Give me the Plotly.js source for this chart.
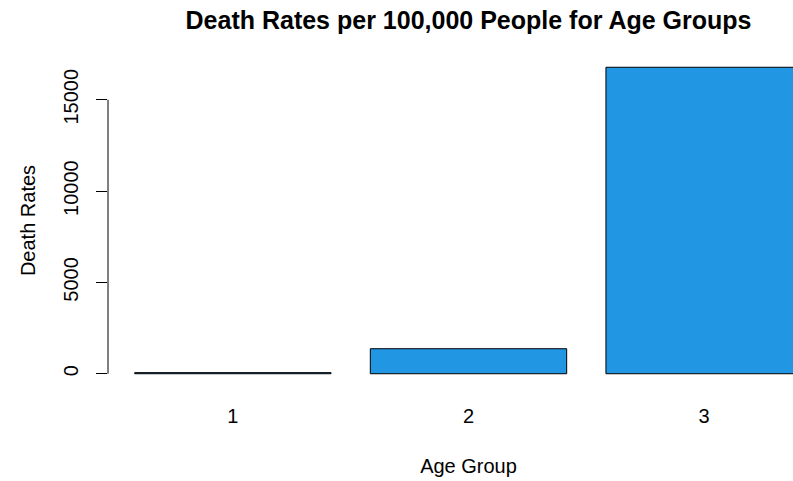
<!DOCTYPE html>
<html>
<head>
<meta charset="utf-8">
<script src="https://cdn.plot.ly/plotly-3.0.1.min.js"></script>
<style>html,body{margin:0;padding:0;background:#fff;overflow:hidden;width:793px;height:481px;}</style>
</head>
<body>
<div style="width:793px;height:481px;overflow:hidden;">
<div id="chart" style="width:829px;height:481px;"></div>
</div>
<script>
// Data
const ageGroups = ["1", "2", "3"];
const deathRates = [60, 1370, 16780];
const yTickVals = [0, 5000, 10000, 15000];
const yTickText = ["0", "5000", "10000", "15000"];

// R barplot-style positions: width 1, space 0.2
const xPos = ageGroups.map((_, i) => 0.7 + i * 1.2);
const maxVal = Math.max(...deathRates);
const xLo = xPos[0] - 0.5, xHi = xPos[xPos.length - 1] + 0.5;
const xPad = 0.04 * (xHi - xLo);

const font = "Liberation Sans, Arial, sans-serif";

const trace = {
  type: "bar",
  x: xPos,
  y: deathRates,
  width: 1,
  marker: { color: "#2196E3", line: { color: "#000000", width: 1 } },
  hoverinfo: "x+y"
};

const layout = {
  width: 829,
  height: 481,
  margin: { l: 108, r: 0, t: 55, b: 95 },
  paper_bgcolor: "#ffffff",
  plot_bgcolor: "#ffffff",
  showlegend: false,
  title: {
    text: "<b>Death Rates per 100,000 People for Age Groups</b>",
    font: { family: font, size: 25, color: "#000" },
    xref: "paper", x: 0.5, xanchor: "center",
    yref: "container", y: 1 - 20 / 481, yanchor: "middle"
  },
  xaxis: {
    range: [xLo - xPad, xHi + xPad],
    tickvals: xPos,
    ticktext: ageGroups,
    showgrid: false, zeroline: false, showline: false,
    ticks: "", ticklabelstandoff: 16,
    tickfont: { family: font, size: 20, color: "#000" },
    title: { text: "Age Group", font: { family: font, size: 20, color: "#000" }, standoff: 32 }
  },
  yaxis: {
    range: [-0.04 * maxVal, 1.04 * maxVal],
    tickvals: yTickVals,
    ticktext: yTickText,
    tickangle: -90,
    showgrid: false, zeroline: false, showline: false,
    ticks: "outside", ticklen: 11, tickwidth: 1, tickcolor: "#000",
    ticklabelstandoff: 10,
    tickfont: { family: font, size: 20, color: "#000" },
    title: { text: "Death Rates", font: { family: font, size: 20, color: "#000" }, standoff: 19 }
  },
  shapes: [{
    type: "line", xref: "paper", yref: "y",
    x0: 0, x1: 0, y0: yTickVals[0], y1: yTickVals[yTickVals.length - 1],
    line: { color: "#000", width: 1 }
  }]
};

Plotly.newPlot("chart", [trace], layout, { displayModeBar: false, staticPlot: true });
</script>
</body>
</html>
